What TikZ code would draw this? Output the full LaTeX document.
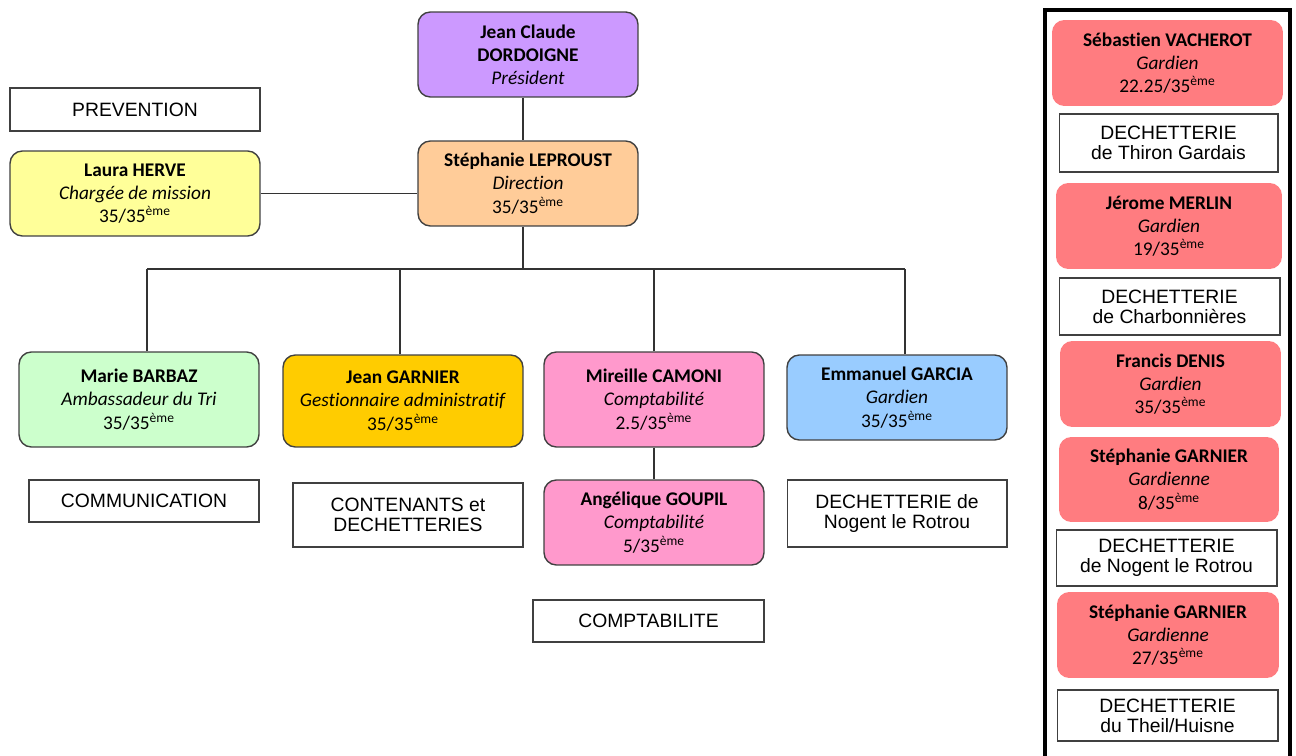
\documentclass[tikz,border=0pt]{standalone}
\usepackage{fontspec}
\setmainfont{Carlito}[Ligatures=NoCommon]
\newfontfamily\arialfont{Liberation Sans}
\usetikzlibrary{positioning}

\definecolor{presfill}{HTML}{CC99FF}
\definecolor{dirfill}{HTML}{FFCC99}
\definecolor{missionfill}{HTML}{FFFF99}
\definecolor{trifill}{HTML}{CCFFCC}
\definecolor{gestfill}{HTML}{FFCC00}
\definecolor{comptafill}{HTML}{FF99CC}
\definecolor{gardfill}{HTML}{99CCFF}
\definecolor{dechfill}{HTML}{FF7C80}

\newcommand{\ete}[1]{#1/35\textsuperscript{ème}}

\begin{document}
\begin{tikzpicture}[x=0.02cm,y=-0.02cm]
    \tikzstyle{person} = [draw=black!75, line width=0.8pt, rounded corners=7pt, align=center, font=\fontsize{11}{13.2}\selectfont, minimum height=1.7cm, inner sep=2pt]
    \tikzstyle{guard} = [person, draw=none, fill=dechfill, minimum height=1.72cm]
    \tikzstyle{site} = [draw=black!75, line width=0.6pt, align=center, font=\arialfont\fontsize{11}{11.5}\selectfont, inner sep=2pt]
    \tikzstyle{link} = [draw=black!80, line width=0.7pt]
    \useasboundingbox (0,0) rectangle (1296,756);

    % direction
    \node[person, fill=presfill, minimum width=4.4cm] (pres) at (528,54.5) {\textbf{Jean Claude}\\ \textbf{DORDOIGNE}\\ \textit{Président}};
    \node[person, fill=dirfill, minimum width=4.4cm] (dir) at (528,183.5) {\textbf{Stéphanie LEPROUST}\\ \textit{Direction}\\ \ete{35}};
    \node[site, minimum width=5cm, minimum height=0.86cm] (prev) at (135,109.5) {PREVENTION};
    \node[person, fill=missionfill, minimum width=5cm] (herve) at (135,193.5) {\textbf{Laura HERVE}\\ \textit{Chargée de mission}\\ \ete{35}};

    % services
    \node[person, fill=trifill, minimum width=4.8cm, minimum height=1.9cm] (barbaz) at (139,399.5) {\textbf{Marie BARBAZ}\\ \textit{Ambassadeur du Tri}\\ \ete{35}};
    \node[person, fill=gestfill, minimum width=4.8cm, minimum height=1.84cm] (jgarnier) at (403,401) {\textbf{Jean GARNIER}\\ \textit{Gestionnaire administratif}\\ \ete{35}};
    \node[person, fill=comptafill, minimum width=4.4cm, minimum height=1.9cm] (camoni) at (654,399.5) {\textbf{Mireille CAMONI}\\ \textit{Comptabilité}\\ \ete{2.5}};
    \node[person, fill=gardfill, minimum width=4.4cm] (garcia) at (897,397.5) {\textbf{Emmanuel GARCIA}\\ \textit{Gardien}\\ \ete{35}};
    \node[person, fill=comptafill, minimum width=4.4cm] (goupil) at (654,522.5) {\textbf{Angélique GOUPIL}\\ \textit{Comptabilité}\\ \ete{5}};

    \node[site, minimum width=4.6cm, minimum height=0.84cm] (commu) at (144,501) {COMMUNICATION};
    \node[site, minimum width=4.6cm, minimum height=1.28cm] (conten) at (408,515) {CONTENANTS et\\ DECHETTERIES};
    \node[site, minimum width=4.4cm, minimum height=1.34cm] (nogent) at (897,513.5) {DECHETTERIE de\\ Nogent le Rotrou};
    \node[site, minimum width=4.62cm, minimum height=0.84cm] (compta) at (648.5,621) {COMPTABILITE};

    % dechetteries
    \draw[line width=1.8pt] (1045,760) -- (1045,10) -- (1290,10) -- (1290,760);
    \node[guard, minimum width=4.62cm] (vacherot) at (1167.5,63) {\textbf{Sébastien VACHEROT}\\ \textit{Gardien}\\ \ete{22.25}};
    \node[site, minimum width=4.38cm, minimum height=1.16cm] (thiron) at (1168.5,143) {DECHETTERIE\\ de Thiron Gardais};
    \node[guard, minimum width=4.52cm] (merlin) at (1169,226) {\textbf{Jérome MERLIN}\\ \textit{Gardien}\\ \ete{19}};
    \node[site, minimum width=4.42cm, minimum height=1.14cm] (charbon) at (1169.5,306.5) {DECHETTERIE\\ de Charbonnières};
    \node[guard, minimum width=4.42cm] (denis) at (1170.5,384) {\textbf{Francis DENIS}\\ \textit{Gardien}\\ \ete{35}};
    \node[guard, minimum width=4.4cm, minimum height=1.7cm] (sgarnier) at (1169,479.5) {\textbf{Stéphanie GARNIER}\\ \textit{Gardienne}\\ \ete{8}};
    \node[site, minimum width=4.42cm, minimum height=1.12cm] (nogent2) at (1166.5,558) {DECHETTERIE\\ de Nogent le Rotrou};
    \node[guard, minimum width=4.44cm] (sgarnier2) at (1168,635) {\textbf{Stéphanie GARNIER}\\ \textit{Gardienne}\\ \ete{27}};
    \node[site, minimum width=4.42cm, minimum height=1.02cm] (theil) at (1167.5,715.5) {DECHETTERIE\\ du Theil/Huisne};

    % liens
    \coordinate (bus) at (0,269);
    \draw[link] ([xshift=-0.1cm]pres.south) -- ([xshift=-0.1cm]dir.north);
    \draw[link] (herve.east) -- (herve.east -| dir.west);
    \draw[link] ([xshift=-0.1cm]dir.south) -- ([xshift=-0.1cm]dir.south |- bus);
    \draw[link] ([xshift=0.16cm]barbaz.north |- bus) -- ([xshift=0.16cm]garcia.north |- bus);
    \foreach \n/\dx in {barbaz/0.16cm,jgarnier/-0.06cm,camoni/0cm,garcia/0.16cm}
        \draw[link] ([xshift=\dx]\n.north) -- ([xshift=\dx]\n.north |- bus);
    \draw[link] (camoni) -- (goupil);
\end{tikzpicture}
\end{document}
